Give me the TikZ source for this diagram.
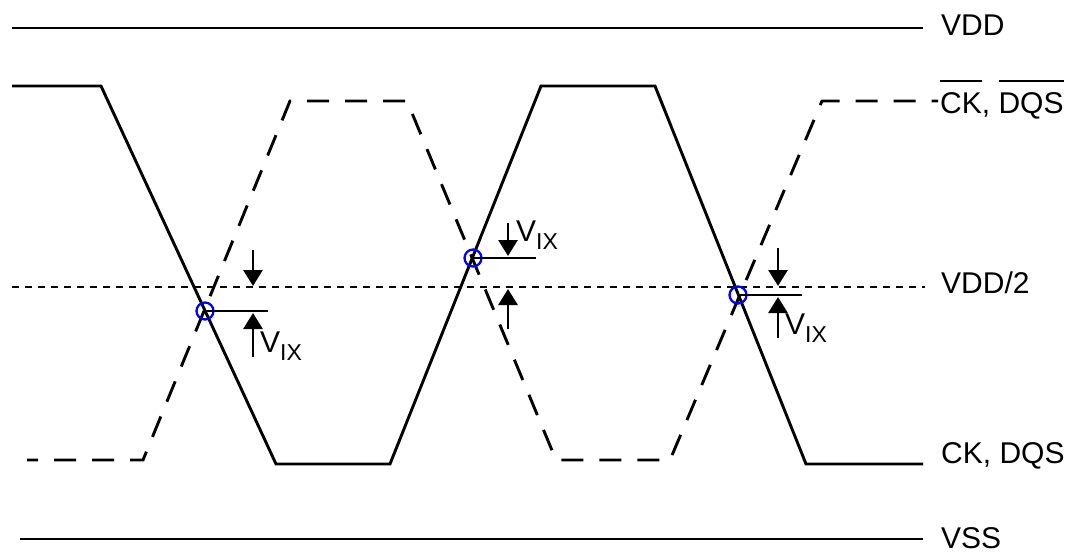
\documentclass[tikz,border=0pt]{standalone}
\usepackage{fontspec}
\setmainfont{Liberation Sans}
\usetikzlibrary{arrows.meta}
\newcommand\myovl[1]{\vbox{\hrule height 2.5pt\kern 10pt\hbox{#1}}}
\newcommand\vixtext{V\raisebox{-8pt}{\fontsize{23}{25}\selectfont IX}}
\begin{document}
\begin{tikzpicture}[x=1pt,y=-1pt,
  sig/.style={line width=2.9pt, line join=miter},
  dsig/.style={sig, dash pattern=on 22pt off 16pt, dash phase=11pt},
  midline/.style={line width=2.9pt, dash pattern=on 7pt off 6pt},
  xcirc/.style={draw=blue, line width=2.3pt, circle, minimum size=17pt, inner sep=0pt},
  lbl/.style={anchor=base west, inner sep=0pt, font=\fontsize{30}{36}\selectfont},
  vixarrow/.style={line width=2.9pt, -{Triangle[width=19pt,length=16pt]}}]
\useasboundingbox (0,0) rectangle (1073,554);
% rails
\draw[sig] (12,28) -- (923,28);
\draw[sig] (20,539) -- (923,539);
\draw[midline] (12,287) -- (925,287);
% CK (solid)
\draw[sig] (12,86) -- (101,86) -- (276,464) -- (390,464) -- (541,86) -- (655,86) -- (806,464) -- (923,464);
% CK# (dashed)
\draw[dsig] (27,460) -- (143,460) -- (290,101) -- (407,101) -- (556,460) -- (670,460) -- (822,101) -- (938,101);
% crossing markers
\node[xcirc] (c1) at (205,311) {};
\node[xcirc] (c2) at (473,258) {};
\node[xcirc] (c3) at (738,295) {};
\coordinate (h1) at (268,311);
\coordinate (h2) at (536,258);
\coordinate (h3) at (802,295);
\draw[sig] (c1.center) -- (h1);
\draw[sig] (c2.center) -- (h2);
\draw[sig] (c3.center) -- (h3);
% VIX arrows
\draw[vixarrow] (253,250) -- (253,286);
\draw[vixarrow] (253,357) -- (253,313);
\draw[vixarrow] (508,223) -- (508,256);
\draw[vixarrow] (508,329) -- (508,289);
\draw[vixarrow] (778,248) -- (778,286);
\draw[vixarrow] (778,338) -- (778,297);
\node[lbl] (v1) at (260,352) {\vixtext};
\node[lbl] (v2) at (516,241) {\vixtext};
\node[lbl] (v3) at (785,334) {\vixtext};
% right labels
\node[lbl] (lvdd) at (941,35) {VDD};
\node[lbl] (lckb) at (940,113) {\myovl{CK}, \myovl{DQS}};
\node[lbl] (lhalf) at (941,293) {VDD/2};
\node[lbl] (lck) at (941,463) {CK, DQS};
\node[lbl] (lvss) at (941,548) {VSS};
\end{tikzpicture}
\end{document}
